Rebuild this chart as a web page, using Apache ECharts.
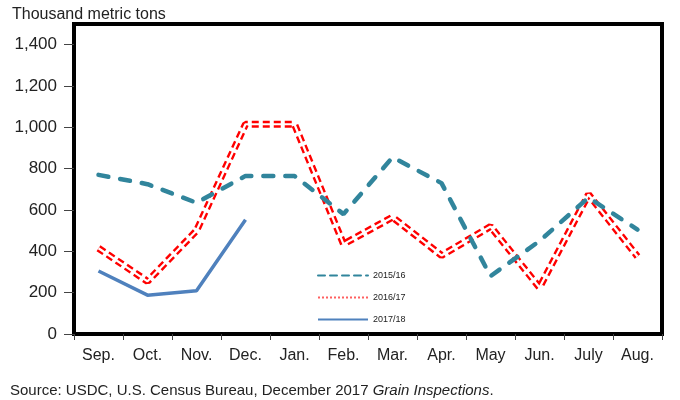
<!DOCTYPE html>
<html>
<head>
<meta charset="utf-8">
<script src="https://cdn.jsdelivr.net/npm/echarts@6/dist/echarts.min.js"></script>
<style>
html,body{margin:0;padding:0;background:#fff;}
#c{width:680px;height:400px;}
</style>
</head>
<body>
<div id="c"></div>
<script>
var categories = ['Sep.','Oct.','Nov.','Dec.','Jan.','Feb.','Mar.','Apr.','May','Jun.','July','Aug.'];
var s1516 = [770, 725, 635, 765, 765, 580, 855, 730, 280, 450, 660, 505];
var s1617 = [415, 255, 500, 1015, 1015, 435, 565, 380, 520, 225, 675, 375];
var s1718 = [305, 188, 209, 553];
var seriesNames = ['2015/16', '2016/17', '2017/18'];
var yTitle = 'Thousand metric tons';
var sourceText = 'Source: USDC, U.S. Census Bureau, December 2017 ';
var sourceItalic = 'Grain Inspections';

var teal = '#31859C', red = '#FF0000', blue = '#4F81BD';
var chart = echarts.init(document.getElementById('c'));
chart.setOption({
  backgroundColor: '#fff',
  animation: false,
  title: [{
    text: yTitle, left: 7, top: 2,
    textStyle: {fontFamily: 'Liberation Sans', fontSize: 16, fontWeight: 'normal', color: '#222'}
  }, {
    text: '{a|' + sourceText + '}{b|' + sourceItalic + '}{a|.}',
    left: 5, top: 378,
    textStyle: {
      fontWeight: 'normal',
      rich: {
        a: {fontFamily: 'Liberation Sans', fontSize: 15, fontWeight: 'normal', color: '#222'},
        b: {fontFamily: 'Liberation Sans', fontSize: 15, fontWeight: 'normal', color: '#222', fontStyle: 'italic'}
      }
    }
  }],
  grid: {left: 74, top: 24, width: 588, height: 310, show: true, borderColor: '#000', borderWidth: 4, containLabel: false},
  legend: {
    orient: 'vertical', left: 312, top: 266, itemWidth: 50, itemHeight: 10, itemGap: 13,
    textStyle: {fontFamily: 'Liberation Sans', fontSize: 9, color: '#222'},
    itemStyle: {opacity: 0, borderWidth: 0},
    data: [
      {name: seriesNames[0], itemStyle: {opacity: 0}, lineStyle: {color: teal, width: 2, type: [7, 5]}},
      {name: seriesNames[1], itemStyle: {opacity: 0}, lineStyle: {color: '#FF6060', width: 2, type: [2, 2]}},
      {name: seriesNames[2], itemStyle: {opacity: 0}, lineStyle: {color: blue, width: 2, type: 'solid'}}
    ]
  },
  xAxis: {
    type: 'category', data: categories, boundaryGap: true,
    axisLine: {show: true, lineStyle: {color: '#000', width: 4}},
    axisTick: {show: true, length: 6, lineStyle: {color: '#444', width: 1}},
    axisLabel: {fontFamily: 'Liberation Sans', fontSize: 16, color: '#222', margin: 14},
    splitLine: {show: false}
  },
  yAxis: {
    type: 'value', min: 0, max: 1500, interval: 200,
    axisLine: {show: true, lineStyle: {color: '#000', width: 4}},
    axisTick: {show: true, length: 10, lineStyle: {color: '#444', width: 1}},
    axisLabel: {
      fontFamily: 'Liberation Sans', fontSize: 17, color: '#222', margin: 17, showMaxLabel: false,
      formatter: function (v) { return v.toLocaleString('en-US'); }
    },
    splitLine: {show: false}
  },
  series: [{
    name: seriesNames[1], type: 'line', data: s1617, symbol: 'none', z: 2,
    lineStyle: {color: red, width: 7, type: [7, 4]}, itemStyle: {color: red}
  }, {
    name: seriesNames[1] + ' inner', type: 'line', data: s1617, symbol: 'none', z: 3,
    lineStyle: {color: '#fff', width: 2.2, type: 'solid'}, silent: true
  }, {
    name: seriesNames[0], type: 'line', data: s1516, symbol: 'none', z: 4,
    lineStyle: {color: teal, width: 4.5, type: [10, 12], cap: 'round'}, itemStyle: {color: teal}
  }, {
    name: seriesNames[2], type: 'line', data: s1718, symbol: 'none', z: 5,
    lineStyle: {color: blue, width: 3.5, type: 'solid'}, itemStyle: {color: blue}
  }]
});
</script>
</body>
</html>
